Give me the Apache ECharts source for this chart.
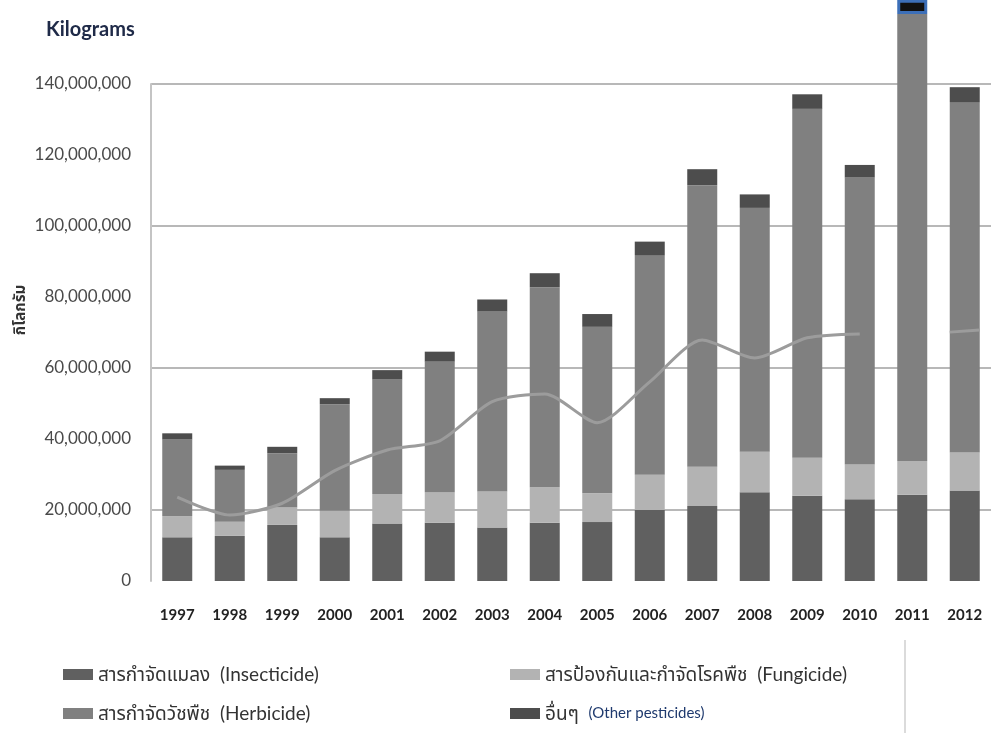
<!DOCTYPE html>
<html>
<head>
<meta charset="utf-8">
<script src="https://cdn.jsdelivr.net/npm/echarts@6/dist/echarts.min.js"></script>
<style>
html,body{margin:0;padding:0;background:#fff;}
#chart{width:1000px;height:733px;}
</style>
</head>
<body>
<div id="chart"></div>
<script>
const years = ['1997','1998','1999','2000','2001','2002','2003','2004','2005','2006','2007','2008','2009','2010','2011','2012'];
const insecticide = [12300000,12700000,15800000,12300000,16200000,16400000,15100000,16400000,16600000,20000000,21100000,25000000,24000000,23000000,24300000,25500000];
const fungicide = [6000000,4000000,5000000,7500000,8300000,8500000,10100000,10000000,8100000,9900000,11100000,11400000,10700000,9800000,9500000,10700000];
const herbicide = [21600000,14600000,15200000,30000000,32300000,36900000,50700000,56300000,46900000,61900000,79300000,68700000,98300000,80900000,125900000,98700000];
const otherPest = [1700000,1200000,1800000,1700000,2600000,2800000,3400000,4000000,3600000,3800000,4500000,3800000,4100000,3500000,4000000,4200000];
const trendLine = [23600000,18600000,21900000,31100000,36900000,39500000,50500000,52700000,44600000,56100000,67900000,62800000,68500000,69600000,null,70400000];

const names = {
  ins: 'สารกำจัดแมลง  (Insecticide)',
  fung: 'สารป้องกันและกำจัดโรคพืช  (Fungicide)',
  herb: 'สารกำจัดวัชพืช  (Herbicide)',
  other: 'อื่นๆ  (Other pesticides)'
};
const FONT = 'Lato, "Noto Sans", "Noto Sans Thai", "Loma", "Garuda", "Tlwg Typo", sans-serif';

const chart = echarts.init(document.getElementById('chart'), null, {renderer: 'canvas'});

function barSeries(name, data, color) {
  return {
    name: name, type: 'bar', stack: 'total', barWidth: 30, clip: false,
    itemStyle: {color: color},
    emphasis: {disabled: true},
    data: data
  };
}

const otherData = otherPest.map((v, i) => years[i] === '2011'
  ? {value: v, itemStyle: {color: '#111111', borderColor: '#3c6fb8', borderWidth: 3}}
  : v);
const lineData = trendLine.map((v, i) => years[i] === '2012'
  ? {value: v, symbol: 'rect', symbolSize: [30, 3], symbolRotate: 4, itemStyle: {color: '#9c9c9c'}}
  : v);

const legendCommon = {
  orient: 'vertical', itemWidth: 30, itemHeight: 11, itemGap: 20,
  icon: 'rect', selectedMode: false,
  textStyle: {fontFamily: FONT, fontSize: 19, color: '#333', fontWeight: 'normal',
    rich: {en: {fontFamily: FONT, fontSize: 15, color: '#1f3a6e'}}}
};

chart.setOption({
  animation: false,
  backgroundColor: '#ffffff',
  title: {
    text: 'Kilograms', left: 41, top: 15,
    textStyle: {fontFamily: FONT, fontSize: 20, fontWeight: 'bold', color: '#1f2a48'}
  },
  grid: {left: 151, right: 9, top: 84, bottom: 152, containLabel: false},
  legend: [
    Object.assign({}, legendCommon, {left: 58, top: 660, data: [names.ins, names.herb]}),
    Object.assign({}, legendCommon, {left: 505, top: 660, data: [names.fung, names.other],
      formatter: function (n) {
        if (n === names.other) return 'อื่นๆ  {en|(Other pesticides)}';
        return n;
      }})
  ],
  xAxis: {
    type: 'category', data: years,
    axisLine: {show: false}, axisTick: {show: false},
    axisLabel: {fontFamily: FONT, fontSize: 15, fontWeight: 'bold', color: '#222', margin: 27}
  },
  yAxis: {
    type: 'value', min: 0, max: 140000000, interval: 20000000,
    axisLine: {show: true, lineStyle: {color: '#c4c4c4', width: 2}},
    axisTick: {show: false},
    axisLabel: {
      fontFamily: FONT, fontSize: 17, color: '#4a4a4a', margin: 20,
      formatter: function (v) { return v.toLocaleString('en-US'); }
    },
    splitLine: {show: true, lineStyle: {color: ['rgba(0,0,0,0)', '#b8b8b8'], width: 2}}
  },
  series: [
    barSeries(names.ins, insecticide, '#606060'),
    barSeries(names.fung, fungicide, '#b3b3b3'),
    barSeries(names.herb, herbicide, '#808080'),
    barSeries(names.other, otherData, '#4d4d4d'),
    {
      name: 'trend', type: 'line', data: lineData, smooth: 0.25,
      symbol: 'none', showSymbol: true, connectNulls: false, z: 5,
      lineStyle: {color: '#9c9c9c', width: 3},
      itemStyle: {color: '#9c9c9c'},
      emphasis: {disabled: true}
    }
  ],
  graphic: [
    {type: 'text', x: 20, y: 310, rotation: Math.PI / 2,
      style: {text: 'กิโลกรัม', fontFamily: FONT, fontSize: 15, fontWeight: 'bold', fill: '#333',
        align: 'center', verticalAlign: 'middle'}},
    {type: 'line', shape: {x1: 905, y1: 640, x2: 905, y2: 733}, style: {stroke: '#cfcfcf', lineWidth: 1.5}}
  ]
});
</script>
</body>
</html>
